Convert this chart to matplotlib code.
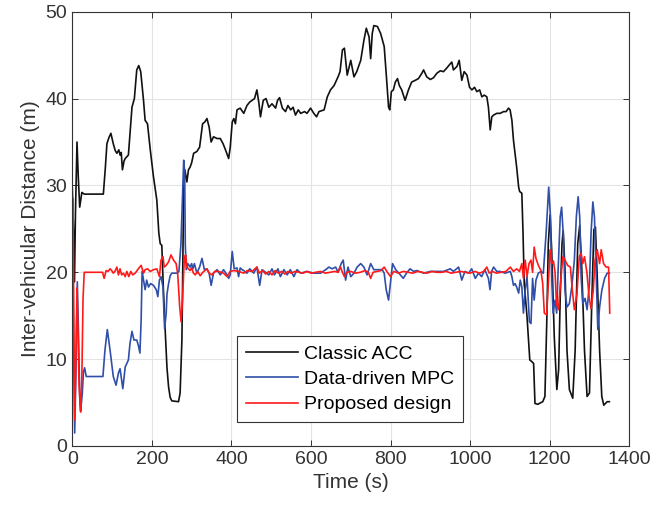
import numpy as np
import matplotlib.pyplot as plt

plt.rcParams['font.family'] = ['Liberation Sans', 'DejaVu Sans']

# Classic ACC
acc_t = [0, 3, 5.5, 8, 11.8, 15, 18.6, 24, 30, 78, 83, 87, 92, 97, 103, 108, 112, 117, 120, 123,
         126, 130, 133, 141, 146, 150, 156, 162, 167, 172, 179, 183, 189, 196, 204, 212.5, 217.5,
         221, 225, 229, 233.5, 238, 242, 246, 250, 267, 271, 275.5, 278, 280, 283, 288, 292, 296,
         300, 305, 313, 320, 327.5, 333, 338.5, 344, 349, 355, 364, 372, 379, 385, 393, 397, 402,
         406, 410, 414, 422, 431, 439, 446, 452, 458, 464, 469, 473, 480, 487, 494, 502, 511, 516,
         521, 528, 536, 542, 549, 555, 561, 568, 574, 584, 590, 599, 607, 614, 620, 633, 641, 649,
         658, 668, 673, 679, 684, 691, 700, 708, 715, 725, 733, 739, 746, 750, 754, 758, 767, 775,
         784, 789, 795, 798, 802, 807, 812, 817.5, 822, 828, 836.5, 845, 853, 862, 870, 878.5, 883,
         891, 900, 908, 916, 925, 933, 941, 950, 954, 958, 967, 972.5, 979, 985, 992, 998.5, 1004.5,
         1011, 1017, 1024, 1029.5, 1035.5, 1042, 1046, 1050.5, 1054.5, 1059, 1067, 1075.5, 1084,
         1090.5, 1096.5, 1100.5, 1105, 1109, 1113, 1117, 1122, 1124.5, 1130, 1133, 1136, 1143, 1150,
         1155.5, 1159.6, 1163, 1170, 1182.5, 1188, 1193, 1196.5, 1201, 1205, 1211.5, 1218, 1222.5,
         1226.5, 1231, 1234, 1238.5, 1243.5, 1249.5, 1258, 1264, 1270.5, 1275.5, 1280.5, 1287.5,
         1294, 1300, 1306, 1311, 1315, 1319.5, 1325.5, 1331, 1336, 1344.5, 1350]
acc_d = [29.7, 25, 18.9, 27, 35.0, 31, 27.5, 29.2, 29.0, 29.0, 32, 34.8, 35.5, 36.0, 34.8, 34.0, 33.7,
         34.1, 33.5, 33.8, 31.8, 32.8, 33.1, 33.5, 36.5, 39.0, 40.0, 43.3, 43.8, 43.1, 39.8, 37.5,
         37.1, 34.1, 31.0, 28.3, 24.5, 23.3, 23.1, 18.0, 13.3, 9.0, 6.8, 5.6, 5.2, 5.1, 6.1, 12.2,
         21.8, 29.5, 31.8, 30.4, 31.8, 32.1, 32.6, 33.7, 33.9, 34.4, 37.1, 37.3, 37.7, 36.7, 35.0,
         35.6, 35.4, 35.4, 34.8, 34.1, 33.1, 34.4, 37.3, 37.7, 37.1, 38.7, 38.9, 38.3, 39.2, 39.6,
         39.8, 40.0, 41.0, 39.5, 37.9, 39.8, 40.0, 39.0, 39.4, 38.9, 39.8, 40.1, 38.9, 38.5, 39.2,
         38.7, 39.0, 38.1, 38.7, 38.3, 38.5, 38.3, 38.9, 38.3, 37.9, 38.5, 38.7, 40.2, 41.0, 41.5,
         42.5, 43.1, 45.6, 45.8, 42.7, 44.4, 42.5, 43.1, 44.4, 46.7, 48.1, 47.1, 44.6, 47.5, 48.4,
         48.3, 47.5, 46.0, 42.9, 39.0, 38.7, 40.8, 41.0, 41.9, 42.3, 41.5, 41.0, 39.8, 41.0, 41.9,
         42.1, 42.3, 42.9, 43.3, 42.5, 42.2, 42.4, 42.9, 43.2, 43.1, 43.5, 44.0, 44.2, 43.3, 43.7,
         44.4, 42.1, 43.1, 42.7, 41.3, 41.0, 41.3, 40.8, 41.0, 40.2, 40.4, 40.2, 39.0, 36.4, 37.9,
         38.1, 38.3, 38.3, 38.5, 38.5, 38.9, 38.7, 37.5, 35.2, 33.7, 32.1, 29.8, 29.3, 29.1, 24.5,
         18.7, 14.9, 9.9, 9.7, 9.5, 4.9, 4.8, 5.1, 5.7, 14.9, 23.3, 26.6, 22.6, 12.6, 6.5, 8.8, 17.2,
         23.3, 24.8, 20.3, 11.0, 6.5, 5.5, 11.0, 23.3, 25.4, 20.6, 11.0, 5.7, 6.1, 16.8, 24.9, 25.2,
         19.5, 11.0, 5.7, 4.7, 5.1, 5.1]

# Data-driven MPC
mpc_t = [0, 3, 6, 9, 12.6, 16, 19, 21, 25, 28, 31, 35, 77, 82, 88, 95, 103, 110, 116, 120, 127, 133,
         141, 145, 150, 155, 162, 166, 170, 173, 175.5, 179, 183, 187, 191.5, 197, 204, 211, 215, 219,
         223, 228, 232, 236, 238, 242, 246, 250, 263, 268, 273, 277.5, 280, 282.5, 284, 286.5, 290.5,
         296, 300, 303, 307, 313, 320, 326, 332, 338, 344, 349, 355, 364, 372, 380, 389, 393, 397,
         402, 407, 414, 418, 422, 427, 431, 435, 439, 446, 448, 456, 464, 471, 477, 486, 494, 502,
         508, 517, 523, 532, 540, 548, 557, 565, 574, 590, 607, 624, 637, 645, 653, 662, 668, 676,
         681, 687, 693, 700, 708, 716, 725, 733, 741, 750, 758, 767, 779, 784, 789, 795, 800, 805,
         813, 821, 832, 840, 849, 858, 866, 883, 900, 916, 933, 950, 958, 971, 979, 987, 996, 1004,
         1013, 1021, 1029, 1037, 1046, 1050, 1054, 1059, 1067, 1075, 1088, 1101, 1105, 1109, 1113,
         1117, 1122, 1126, 1130, 1134, 1138.5, 1143, 1149, 1153, 1157, 1161, 1165.5, 1171.5, 1178,
         1184, 1191, 1197.5, 1202, 1205, 1208.5, 1213.5, 1217.5, 1221.5, 1226.5, 1230, 1234, 1238.5,
         1243.5, 1249.5, 1255.5, 1262, 1267, 1271.5, 1275.5, 1279, 1283, 1289, 1294, 1300, 1304,
         1308.5, 1312.5, 1317, 1321, 1325.5, 1331, 1338, 1344.5, 1350]
mpc_d = [25, 12, 1.5, 8, 18.9, 12, 5, 4.0, 6, 8.5, 9.0, 8.0, 8.0, 11.0, 13.4, 11.0, 8.0, 7.0, 8.4, 8.9,
         6.6, 9.1, 9.9, 11.8, 13.2, 12.2, 12.2, 11.6, 10.7, 14.5, 20.1, 19.1, 18.0, 19.1, 18.3, 18.7,
         18.5, 18.0, 17.2, 19.1, 19.5, 18.3, 13.5, 15.3, 17.5, 18.7, 19.6, 19.9, 19.9, 20.1, 23.2,
         29.5, 32.9, 31.5, 23.2, 20.3, 21.0, 20.6, 21.0, 20.4, 21.0, 19.9, 20.6, 21.6, 20.3, 20.4,
         19.9, 18.5, 19.9, 20.3, 19.7, 20.3, 19.7, 19.3, 19.7, 22.4, 20.4, 20.5, 19.5, 20.5, 20.3,
         20.2, 20.0, 19.9, 20.4, 20.3, 19.9, 20.6, 18.5, 20.3, 20.0, 19.7, 20.4, 19.7, 20.4, 19.5,
         20.3, 19.7, 20.3, 19.5, 20.3, 19.9, 20.1, 19.9, 19.9, 20.3, 20.6, 20.4, 20.6, 20.0, 21.0,
         21.4, 19.1, 20.6, 19.5, 19.9, 20.6, 21.0, 20.6, 19.7, 21.0, 20.3, 20.3, 20.3, 19.9, 18.0,
         16.8, 18.9, 21.0, 20.3, 19.9, 19.3, 19.9, 20.4, 20.1, 20.2, 19.9, 20.1, 20.1, 20.1, 20.4,
         20.1, 20.6, 19.1, 20.1, 19.9, 20.4, 19.3, 19.9, 19.5, 20.3, 19.3, 18.0, 20.1, 20.6, 20.1,
         20.1, 19.9, 20.1, 19.5, 18.5, 18.7, 18.3, 17.6, 19.1, 18.3, 15.3, 18.0, 19.5, 14.3, 14.1,
         19.3, 16.8, 19.1, 19.9, 20.1, 19.9, 24.5, 29.8, 26.4, 19.5, 15.3, 16.8, 15.3, 20.6, 26.4,
         27.5, 24.5, 17.9, 16.0, 16.4, 18.3, 21.4, 26.4, 28.7, 26.4, 19.5, 16.4, 17.0, 15.7, 18.7,
         24.5, 28.1, 26.4, 19.5, 13.4, 16.0, 17.9, 19.3, 19.9, 19.9]

# Proposed design
prop_t = [0, 1.5, 4, 6, 9, 11.8, 14, 17, 21, 24, 27, 30, 76, 80, 85, 90, 95, 99, 103, 107, 112, 116,
          120, 124, 128.5, 133, 137, 142, 147, 152, 158, 166, 173, 179, 183, 189, 196, 204, 212.5,
          219, 223, 228, 231, 236, 242, 248, 254.5, 261, 265, 268, 270, 273.5, 277, 280, 282, 285,
          288, 292, 296, 300, 304.5, 309, 315, 321.5, 328, 338.5, 344, 351, 358, 368, 380, 389, 397,
          406, 418, 431, 440, 452, 464, 470, 478, 486, 494, 502, 510, 518, 526, 534, 542, 550, 560,
          570, 580, 590, 600, 612, 624, 636, 648, 660, 668, 674, 679, 684, 690, 700, 712, 724, 736,
          744, 750, 756, 766, 776, 784, 792, 800, 808, 820, 832, 844, 856, 868, 880, 892, 904, 916,
          928, 940, 952, 964, 976, 988, 1000, 1012, 1024, 1034, 1042, 1048, 1056, 1066, 1078, 1090,
          1101, 1109, 1117, 1124, 1130, 1134, 1138.5, 1143, 1148, 1153, 1157, 1161, 1165.5, 1171.5,
          1178, 1182.5, 1186.5, 1192.5, 1196.5, 1201, 1205, 1209.5, 1213.5, 1217, 1222, 1227, 1233,
          1238.5, 1245, 1252, 1257, 1262, 1268.5, 1274.5, 1279, 1283, 1287.5, 1293.5, 1299, 1304,
          1309.5, 1314, 1319.5, 1325.5, 1329.5, 1335.5, 1342, 1348, 1351]
prop_d = [25.0, 28.5, 15, 3.0, 10, 18.2, 14, 7, 3.9, 8, 17, 20.0, 20.0, 19.3, 20.2, 20.1, 20.4, 20.2,
          19.9, 20.1, 20.6, 19.7, 20.4, 19.7, 19.9, 19.5, 20.1, 19.5, 20.1, 19.7, 19.9, 20.4, 20.8,
          19.9, 20.3, 20.4, 20.1, 20.3, 20.4, 19.5, 21.4, 21.8, 20.6, 20.8, 21.2, 22.0, 21.4, 21.0,
          19.8, 17.5, 16.0, 14.3, 16.8, 20.0, 21.8, 22.0, 20.6, 20.4, 20.2, 20.5, 19.9, 19.7, 20.1,
          19.6, 20.0, 20.4, 19.9, 19.7, 20.1, 20.1, 19.9, 19.5, 20.1, 20.2, 20.1, 19.9, 20.2, 20.1,
          20.6, 19.9, 20.2, 19.8, 20.1, 19.7, 20.2, 19.9, 20.1, 19.8, 20.1, 19.9, 20.1, 20.0, 19.9,
          20.1, 19.9, 20.0, 20.1, 19.9, 20.0, 20.1, 20.0, 20.6, 20.0, 19.5, 20.0, 20.1, 19.9, 20.0,
          20.2, 20.0, 19.3, 20.0, 20.1, 20.2, 20.6, 20.0, 19.5, 20.1, 19.9, 20.1, 20.0, 19.9, 20.1,
          20.0, 19.9, 20.1, 20.0, 20.0, 20.1, 19.9, 20.0, 20.1, 20.0, 19.9, 20.1, 19.9, 20.1, 20.6,
          19.9, 20.1, 19.9, 20.0, 20.1, 20.6, 20.1, 20.4, 20.1, 21.0, 19.3, 21.4, 19.5, 21.0, 21.4,
          20.0, 22.9, 21.6, 20.8, 20.2, 18.7, 15.3, 15.1, 18.7, 22.6, 21.0, 21.3, 20.0, 16.4, 15.7,
          18.7, 21.8, 21.4, 20.8, 20.6, 17.9, 15.7, 17.5, 21.8, 22.2, 21.0, 21.8, 20.0, 17.2, 15.8,
          17.9, 21.4, 22.6, 21.0, 22.6, 21.0, 20.6, 20.6, 15.3]

fig = plt.figure(figsize=(6.67, 5.14), dpi=100)
ax = fig.add_axes([0.1084, 0.1323, 0.835, 0.8449])

ax.plot(acc_t, acc_d, color='#111111', lw=1.2, label='Classic ACC')
ax.plot(mpc_t, mpc_d, color='#2f4fa8', lw=1.2, label='Data-driven MPC')
ax.plot(prop_t, prop_d, color='#ff1a1a', lw=1.2, label='Proposed design')

ax.set_xlim(0, 1400)
ax.set_ylim(0, 50)
ax.set_xticks(np.arange(0, 1401, 200))
ax.set_yticks(np.arange(0, 51, 10))
ax.grid(True, color='#e3e3e3', lw=0.8)
ax.set_axisbelow(True)
ax.tick_params(direction='in', top=True, right=True, labelsize=14,
               colors='#333333', length=4, width=0.7)
for s in ax.spines.values():
    s.set_color('#333333')
    s.set_linewidth(0.8)

ax.set_xlabel('Time (s)', fontsize=15, color='#333333')
ax.set_ylabel('Inter-vehicular Distance (m)', fontsize=15, color='#333333')

leg = ax.legend(loc='lower left', bbox_to_anchor=(0.296, 0.055), borderaxespad=0,
                fontsize=14, fancybox=False, framealpha=1, edgecolor='#333333',
                handlelength=2.7, handletextpad=0.3, labelspacing=0.4, borderpad=0.45)
leg.get_frame().set_linewidth(0.8)

fig.savefig('out.png', dpi=100)
